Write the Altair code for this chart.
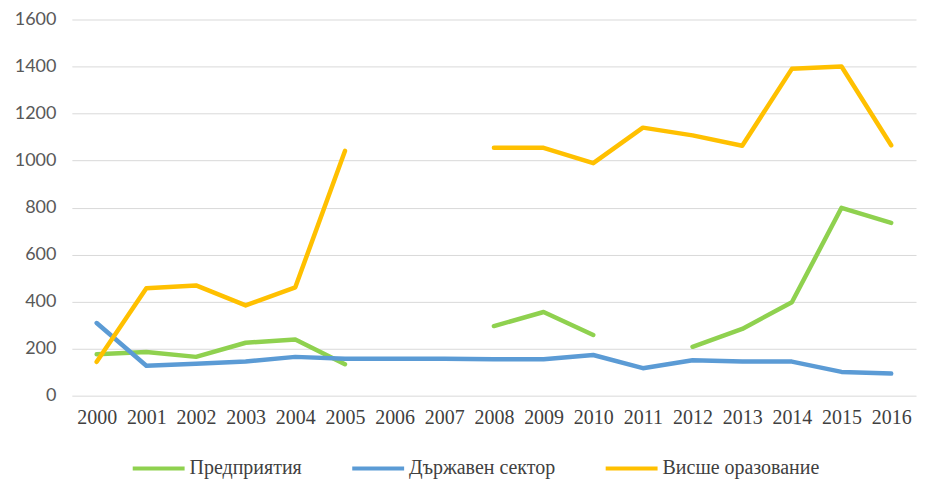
import altair as alt
import pandas as pd

years = [str(y) for y in range(2000, 2017)]
series_names = ["Предприятия", "Държавен сектор", "Висше оразование"]
enterprises = [176, 186, 165, 225, 239, 134, None, None, 296, 356, 258, None, 208, 284, 397, 799, 735]
government = [309, 127, 136, 145, 165, 157, 157, 157, 155, 155, 173, 117, 151, 145, 145, 101, 94]
higher_ed = [144, 457, 469, 384, 461, 1041, None, None, 1054, 1054, 989, 1140, 1107, 1063, 1390, 1400, 1065]
colors = ["#8FD14F", "#5B9BD5", "#FFC000"]

rows = []
for name, vals in zip(series_names, [enterprises, government, higher_ed]):
    for y, v in zip(years, vals):
        rows.append({"Година": y, "Серия": name, "Стойност": v})
df = pd.DataFrame(rows)

chart = alt.Chart(df).mark_line(strokeWidth=4.5, strokeCap="round", strokeJoin="round").encode(
    x=alt.X("Година:O", sort=years, scale=alt.Scale(type="point", padding=0.5),
            axis=alt.Axis(title=None, labelAngle=0, labelFont="Liberation Serif", labelFontSize=20,
                          labelColor="#404040", domain=False, ticks=False, labelPadding=12, grid=False)),
    y=alt.Y("Стойност:Q", scale=alt.Scale(domain=[0, 1600], nice=False),
            axis=alt.Axis(title=None, values=list(range(0, 1601, 200)), format="d",
                          labelFont="Lato", labelFontSize=18,
                          labelColor="#595959", domain=False, ticks=False, labelPadding=16,
                          gridColor="#d9d9d9", gridWidth=1)),
    color=alt.Color("Серия:N", sort=series_names,
                    scale=alt.Scale(domain=series_names, range=colors),
                    legend=alt.Legend(title=None, orient="none", direction="horizontal",
                                      legendX=59, legendY=422,
                                      symbolType="stroke", symbolSize=2704, symbolStrokeWidth=4,
                                      labelFont="Liberation Serif", labelFontSize=20, labelColor="#404040",
                                      labelOffset=3, columnPadding=42, labelLimit=300)),
).properties(
    width=846, height=377,
    autosize=alt.AutoSizeParams(type="none"),
    padding={"left": 64, "top": 11, "right": 2, "bottom": 84},
).configure_view(stroke=None)

chart.save("out.html", embed_options={"renderer": "svg", "actions": False})
